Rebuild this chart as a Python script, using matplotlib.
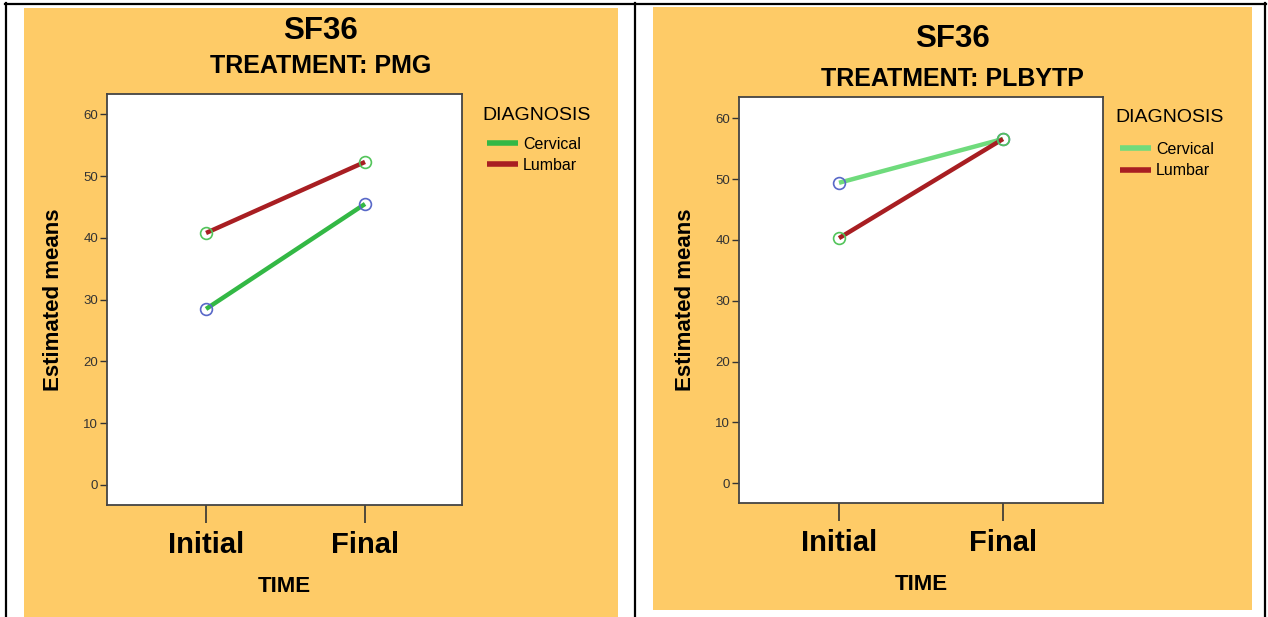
#!/usr/bin/env python3

import matplotlib
matplotlib.use('Agg')
import matplotlib.pyplot as plt
from matplotlib.patches import Rectangle
from matplotlib.lines import Line2D

plt.rcParams['font.family'] = ['Liberation Sans', 'DejaVu Sans']

# data
times = ['Initial', 'Final']
diagnoses = ['Cervical', 'Lumbar']
pmg_cervical = [28.5, 45.5]
pmg_lumbar = [40.8, 52.3]
plb_cervical = [49.4, 56.6]
plb_lumbar = [40.3, 56.6]
yticks = [0, 10, 20, 30, 40, 50, 60]

W, H = 1268, 617
ORANGE = '#FECB67'
RED = '#A81E22'


def fx(x):
    return x / W


def fy(y):
    return 1 - y / H


fig = plt.figure(figsize=(W / 100, H / 100), dpi=100)
fig.patch.set_facecolor('white')

# table cell borders
for x in (6, 635, 1265):
    fig.add_artist(Line2D([fx(x), fx(x)], [0, fy(3)], color='black', lw=1.6))
fig.add_artist(Line2D([fx(5), fx(1266)], [fy(4), fy(4)], color='black', lw=1.6))


def panel(left, right, top, bottom, ax_box, xlim, ylim, series, line_cols,
          treatment, t1, t2, leg_title, leg_top, leg_sp):
    # orange background of the panel
    fig.add_artist(Rectangle((fx(left), fy(bottom)), fx(right - left),
                             (bottom - top) / H, facecolor=ORANGE,
                             edgecolor='none', zorder=0))
    x0, y0, x1, y1 = ax_box
    ax = fig.add_axes([fx(x0), fy(y1), fx(x1 - x0), (y1 - y0) / H])
    ax.set_facecolor('white')
    xs = list(range(len(times)))
    marker_cols = ['#5868C8', '#52C45A']
    handles = []
    for vals, lc, mc, name in zip(series, line_cols, marker_cols, diagnoses):
        ln, = ax.plot(xs, vals, color=lc, lw=3.2, solid_capstyle='butt',
                      label=name, zorder=3)
        ax.plot(xs, vals, ls='none', marker='o', ms=8.5, mfc='none',
                mec=mc, mew=1.2, zorder=4)
        handles.append(ln)
    ax.set_xlim(*xlim)
    ax.set_ylim(*ylim)
    ax.set_xticks(xs)
    ax.set_xticklabels(times, fontsize=21, fontweight='bold')
    ax.set_yticks(yticks)
    ax.set_yticklabels([str(v) for v in yticks], fontsize=9.5, color='#333333')
    ax.tick_params(axis='x', length=13, width=1.2, color='#333333', pad=6)
    ax.tick_params(axis='y', length=5, width=1.0, color='#333333', pad=1.5)
    for s in ax.spines.values():
        s.set_color('#444444')
        s.set_linewidth(1.3)
    ax.set_xlabel('TIME', fontsize=16, fontweight='bold', labelpad=12)
    ax.set_ylabel('Estimated means', fontsize=16, fontweight='bold',
                  labelpad=14)
    cx = fx((left + right) / 2)
    fig.text(cx, fy(t1), 'SF36', ha='center', va='center', fontsize=22.5,
             fontweight='bold')
    fig.text(cx, fy(t2), 'TREATMENT: ' + treatment, ha='center',
             va='center', fontsize=18, fontweight='bold')
    fig.text(fx(leg_title[0]), fy(leg_title[1]), 'DIAGNOSIS', ha='left',
             va='center', fontsize=14)
    leg = ax.legend(handles=handles, loc='upper left',
                    bbox_to_anchor=(fx(leg_title[0] + 5), fy(leg_top)),
                    bbox_transform=fig.transFigure, frameon=False,
                    fontsize=11.5, handlelength=1.95, handletextpad=0.3,
                    labelspacing=leg_sp, borderpad=0, borderaxespad=0)
    for h in leg.legend_handles:
        h.set_linewidth(4)
    return ax


panel(24, 618, 8, 617, (107, 94, 462, 505), (-0.623, 1.61), (-3.24, 63.3),
      [pmg_cervical, pmg_lumbar], ['#33B845', RED], 'PMG', 31, 66,
      (482, 115), 137, 0.35)
panel(653, 1252, 7, 610, (739, 97, 1103, 503), (-0.61, 1.61), (-3.24, 63.5),
      [plb_cervical, plb_lumbar], ['#6FDB7C', RED], 'PLBYTP', 39, 79,
      (1115, 117), 142, 0.4)

fig.savefig('out.png', dpi=100, facecolor=fig.get_facecolor())
